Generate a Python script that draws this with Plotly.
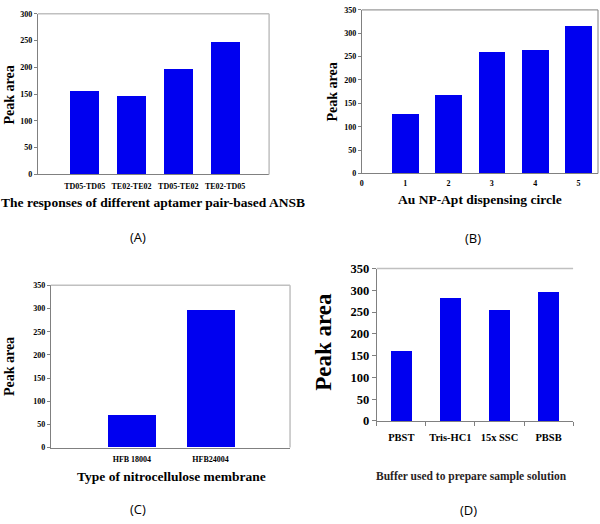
import plotly.graph_objects as go

W, H = 600, 524

# ---- data ----
a_labels = ["TD05-TD05", "TE02-TE02", "TD05-TE02", "TE02-TD05"]
a_values = [157, 146, 198, 248]

b_circles = [1, 2, 3, 4, 5]
b_values = [127, 169, 261, 265, 316]

c_labels = ["HFB 18004", "HFB24004"]
c_values = [69, 296]

d_labels = ["PBST", "Tris-HC1", "15x SSC", "PBSB"]
d_values = [161, 284, 256, 298]

BLUE = "#0000f0"
SERIF = "Liberation Serif, Times New Roman, serif"
SANS = "Open Sans, Noto Sans, sans-serif"
AX = "#808080"
LIGHT = "#c0c0c0"


def px(x):
    return x / W


def py(y):
    return 1 - y / H


fig = go.Figure()

fig.add_trace(go.Bar(x=a_labels, y=a_values, marker=dict(color=BLUE, line=dict(width=0)),
                     width=0.62, xaxis="x", yaxis="y"))
fig.add_trace(go.Bar(x=b_circles, y=b_values, marker=dict(color=BLUE, line=dict(width=0)),
                     width=0.62, xaxis="x2", yaxis="y2"))
fig.add_trace(go.Bar(x=c_labels, y=c_values, marker=dict(color=BLUE, line=dict(width=0)),
                     width=0.61, xaxis="x3", yaxis="y3"))
fig.add_trace(go.Bar(x=d_labels, y=d_values, marker=dict(color=BLUE, line=dict(width=0)),
                     width=0.43, xaxis="x4", yaxis="y4"))

small = dict(family=SERIF, size=8, color="black", weight="bold")

common_y = dict(showgrid=False, zeroline=False, showline=True, linecolor=AX, linewidth=1,
                ticks="outside", ticklen=3, tickcolor=AX, tickfont=small, fixedrange=True)
common_x = dict(showgrid=False, zeroline=False, showline=True, linecolor=AX, linewidth=1,
                tickfont=small, fixedrange=True, tickangle=0)

fig.update_layout(
    width=W, height=H, margin=dict(l=0, r=0, t=0, b=0),
    paper_bgcolor="white", plot_bgcolor="white", showlegend=False, bargap=0,
    xaxis=dict(common_x, domain=[px(36), px(268)], anchor="y", range=[-1.0, 3.94],
               ticks="", ticklabelstandoff=4),
    yaxis=dict(common_y, domain=[py(172), py(7)], anchor="x", range=[0, 300], dtick=50),
    xaxis2=dict(common_x, domain=[px(361), px(598)], anchor="y2", range=[0, 5.45],
                dtick=1, tick0=0, ticks="", ticklabelstandoff=2),
    yaxis2=dict(common_y, domain=[py(171), py(3)], anchor="x2", range=[0, 350], dtick=50),
    xaxis3=dict(common_x, domain=[px(49), px(289)], anchor="y3", range=[-1.03, 2.01],
                ticks="", ticklabelstandoff=4),
    yaxis3=dict(common_y, domain=[py(452.7), py(286)], anchor="x3", range=[0, 350], dtick=50),
    xaxis4=dict(common_x, domain=[px(376), px(573)], anchor="y4", range=[-0.5, 3.5],
                ticks="outside", tickson="boundaries", ticklen=4, tickcolor=AX,
                tickfont=dict(family=SERIF, size=10.5, color="black", weight="bold"),
                ticklabelstandoff=6),
    yaxis4=dict(common_y, domain=[py(425.3), py(268.7)], anchor="x4", range=[0, 350], dtick=50,
                ticklen=4, tickfont=dict(family=SERIF, size=12.5, color="black", weight="bold")),
)

# frame lines (top/right)
shapes = []
for xr, yr, right, col in [("x domain", "y domain", True, LIGHT),
                           ("x2 domain", "y2 domain", True, AX),
                           ("x3 domain", "y3 domain", True, LIGHT),
                           ("x4 domain", "y4 domain", False, LIGHT)]:
    w = 1.5 if col == LIGHT else 1
    shapes.append(dict(type="line", xref=xr, yref=yr, x0=0, x1=1, y0=1, y1=1,
                       line=dict(color=col, width=w)))
    if right:
        shapes.append(dict(type="line", xref=xr, yref=yr, x0=1, x1=1, y0=0, y1=1,
                           line=dict(color=col, width=w)))
fig.update_layout(shapes=shapes)

anns = []


def ann(text, x, y, size, family=SERIF, bold=True, angle=0, color="black"):
    anns.append(dict(text=text, x=px(x), y=py(y), xref="paper", yref="paper",
                     xanchor="center", yanchor="middle", showarrow=False, textangle=angle,
                     font=dict(family=family, size=size, color=color,
                               weight="bold" if bold else "normal")))


# Panel A
ann("The responses of different aptamer pair-based ANSB", 152, 201, 13.5)
ann("Peak area", 8, 90, 14, angle=-90)
ann("(A)", 136, 236, 13, family=SANS, bold=False)
# Panel B
ann("Au NP-Apt dispensing circle", 480, 198, 13.5)
ann("Peak area", 332, 87, 14, angle=-90)
ann("(B)", 473, 237, 13, family=SANS, bold=False)
# Panel C
ann("Type of nitrocellulose membrane", 170, 482, 13.5)
ann("Peak area", 7, 369, 14, angle=-90)
ann("(C)", 136, 516, 13, family=SANS, bold=False)
# Panel D
ann("Buffer used to prepare sample solution", 471, 482, 11.5, color="#2a1f1f")
ann("Peak area", 323, 344, 23, angle=-90)
ann("(D)", 468, 517, 13, family=SANS, bold=False)

fig.update_layout(annotations=anns)

fig.write_html("out.html", config=dict(displayModeBar=False),
               post_script="document.body.style.margin='0';document.body.style.overflow='hidden';")
